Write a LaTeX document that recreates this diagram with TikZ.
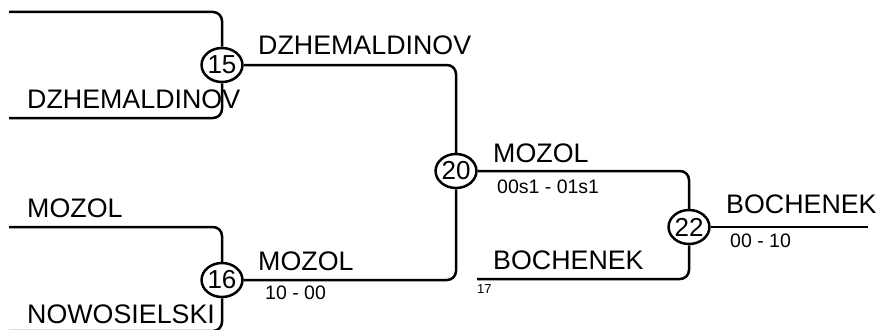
\documentclass[tikz,border=0pt]{standalone}
\usepackage{fontspec}
\setmainfont{Liberation Sans}
\usetikzlibrary{positioning, shapes.geometric}

\begin{document}
\begin{tikzpicture}[x=1pt, y=-1pt,
    wire/.style = {line width = 2.5pt, rounded corners = 9pt},
    match/.style = {shape = ellipse, draw = black, line width = 2.5pt, inner sep = 0pt,
        minimum width = 39pt, minimum height = 34pt, font = \fontsize{26}{26}\selectfont},
    player/.style = {anchor = base west, inner sep = 0pt, font = \fontsize{26.8}{27}\selectfont},
    result/.style = {anchor = base west, inner sep = 0pt, font = \fontsize{19.5}{20}\selectfont},
    seed/.style = {anchor = base west, inner sep = 0pt, font = \fontsize{13}{13}\selectfont}]
            \useasboundingbox (0, 0) rectangle (877, 329);

            % matches
            \node [match] (m15) at (222, 65) {15};
            \node [match] (m16) at (222, 280) {16};
            \node [match] (m20) at (456, 171) {20};
            \node [match] (m22) at (689, 227) {22};

            % free ends
            \coordinate (in1) at (9, 12);
            \coordinate (in2) at (9, 118);
            \coordinate (in3) at (9, 227);
            \coordinate (in4) at (9, 331);
            \coordinate (in17) at (477, 279);
            \coordinate (out) at (868, 227);

            \draw [wire] (in1) -| (m15);
            \draw [wire] (in2) -| (m15);
            \draw [wire] (in3) -| (m16);
            \draw [wire] (in4) -| (m16);
            \draw [wire] (m15) -| (m20);
            \draw [wire] (m16) -| (m20);
            \draw [wire] (m20) -| (m22);
            \draw [wire] (in17) -| (m22);
            \draw [wire] (m22) -- (out);

            % names and scores
            \node [player] (n1) at (27, 108) {DZHEMALDINOV};
            \node [player] (n2) at (27, 217) {MOZOL};
            \node [player] (n3) at (27, 323) {NOWOSIELSKI};
            \node [player] (w15) at (258, 55) {DZHEMALDINOV};
            \node [player] (w16) at (258, 270) {MOZOL};
            \node [result] (r16) at (265, 299) {10 - 00};
            \node [player] (w20) at (493, 162) {MOZOL};
            \node [result] (r20) at (497, 193) {00s1 - 01s1};
            \node [player] (n17) at (493, 269) {BOCHENEK};
            \node [seed] (s17) at (477, 293) {17};
            \node [player] (w22) at (726, 213) {BOCHENEK};
            \node [result] (r22) at (730, 247) {00 - 10};
        \end{tikzpicture}
\end{document}
